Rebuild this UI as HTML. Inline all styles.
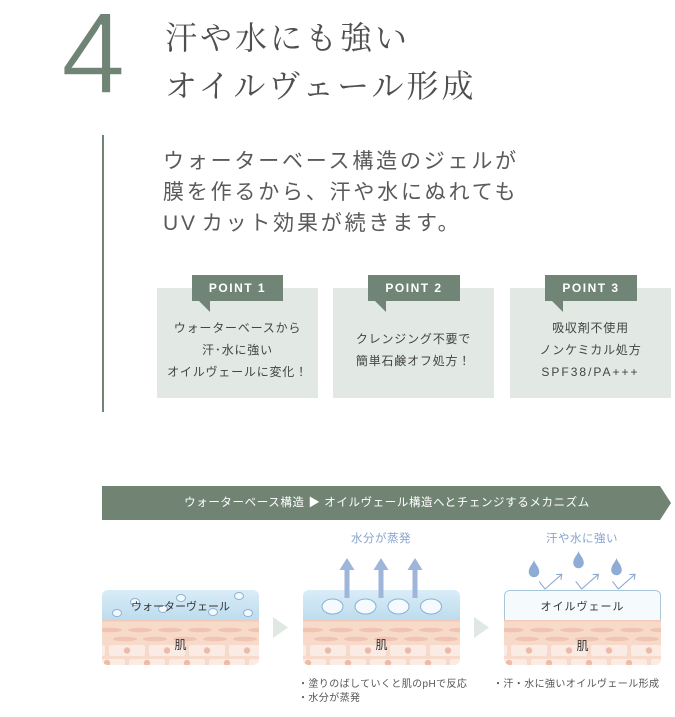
<!DOCTYPE html>
<html><head><meta charset="utf-8">
<style>
html,body{margin:0;padding:0;}
body{width:675px;height:717px;position:relative;background:#fff;overflow:hidden;font-family:"Liberation Sans","Noto Sans CJK JP",sans-serif;}
.a{position:absolute;white-space:nowrap;}
.c{text-align:center;}
</style></head>
<body>
<svg width="675" height="717" style="position:absolute;left:0;top:0" xmlns="http://www.w3.org/2000/svg">
<defs>
<clipPath id="pc"><rect x="0" y="0" width="157" height="75" rx="6" ry="6"/></clipPath>
<linearGradient id="wg" x1="0" y1="0" x2="0" y2="1">
<stop offset="0" stop-color="#d9edf7"/><stop offset="1" stop-color="#bddcee"/></linearGradient>
<g id="skin">
<rect x="0" y="30" width="157" height="45" fill="#f7dac9"/>
<rect x="0" y="30" width="157" height="1.5" fill="#f1cab8"/>
<g fill="#f0c4b2">
<ellipse cx="8" cy="40" rx="12" ry="2.3"/><ellipse cx="38" cy="40" rx="12" ry="2.3"/><ellipse cx="68" cy="40" rx="12" ry="2.3"/><ellipse cx="98" cy="40" rx="12" ry="2.3"/><ellipse cx="128" cy="40" rx="12" ry="2.3"/><ellipse cx="158" cy="40" rx="12" ry="2.3"/>
<ellipse cx="23" cy="49" rx="12" ry="2.3"/><ellipse cx="53" cy="49" rx="12" ry="2.3"/><ellipse cx="83" cy="49" rx="12" ry="2.3"/><ellipse cx="113" cy="49" rx="12" ry="2.3"/><ellipse cx="143" cy="49" rx="12" ry="2.3"/>
</g>
<g fill="#fbebe5">
<rect x="-33" y="55" width="36" height="11" rx="2"/><rect x="7" y="55" width="36" height="11" rx="2"/><rect x="47" y="55" width="36" height="11" rx="2"/><rect x="87" y="55" width="36" height="11" rx="2"/><rect x="127" y="55" width="36" height="11" rx="2"/>
<rect x="-13" y="69" width="36" height="11" rx="2"/><rect x="27" y="69" width="36" height="11" rx="2"/><rect x="67" y="69" width="36" height="11" rx="2"/><rect x="107" y="69" width="36" height="11" rx="2"/><rect x="147" y="69" width="36" height="11" rx="2"/>
</g>
<g fill="#efbaa6">
<circle cx="25" cy="60.5" r="3.2"/><circle cx="65" cy="60.5" r="3.2"/><circle cx="105" cy="60.5" r="3.2"/><circle cx="145" cy="60.5" r="3.2"/>
<circle cx="5" cy="73" r="3.2"/><circle cx="45" cy="73" r="3.2"/><circle cx="85" cy="73" r="3.2"/><circle cx="125" cy="73" r="3.2"/>
</g>
</g>
</defs>

<rect x="102" y="135" width="2" height="277" fill="#718577"/>

<rect x="157" y="288" width="161" height="110" fill="#e2e9e5"/>
<rect x="333" y="288" width="161" height="110" fill="#e2e9e5"/>
<rect x="510" y="288" width="161" height="110" fill="#e2e9e5"/>
<g fill="#718577">
<rect x="192" y="275" width="91" height="26"/><polygon points="198,300 210,300 210,312"/>
<rect x="368" y="275" width="92" height="26"/><polygon points="374,300 386,300 386,312"/>
<rect x="545" y="275" width="92" height="26"/><polygon points="551,300 563,300 563,312"/>
</g>

<polygon points="102,486 660,486 671,503 660,520 102,520" fill="#718474"/>

<g transform="translate(102,590)" clip-path="url(#pc)">
<use href="#skin"/>
<rect x="0" y="0" width="157" height="30" fill="url(#wg)"/>
</g>
<g transform="translate(303,590)" clip-path="url(#pc)">
<use href="#skin"/>
<rect x="0" y="0" width="157" height="30" fill="url(#wg)"/>
</g>
<g transform="translate(504,590)" clip-path="url(#pc)">
<use href="#skin"/>
<rect x="0" y="0" width="157" height="30" fill="#f5fafd"/>
</g>
<path d="M504.5,620 L504.5,596 Q504.5,590.5 510.5,590.5 L654.5,590.5 Q660.5,590.5 660.5,596 L660.5,620" fill="none" stroke="#a7c6da" stroke-width="1"/>

<g fill="#f3f9fd" stroke="#8db2d3" stroke-width="1">
<ellipse cx="117" cy="613" rx="4.5" ry="3.5"/>
<ellipse cx="135" cy="602" rx="4.5" ry="3.5"/>
<ellipse cx="163" cy="609" rx="4.5" ry="3.5"/>
<ellipse cx="181" cy="598" rx="4.5" ry="3.5"/>
<ellipse cx="213" cy="612" rx="4.5" ry="3.5"/>
<ellipse cx="239" cy="596" rx="4.5" ry="3.5"/>
<ellipse cx="248" cy="613" rx="4.5" ry="3.5"/>
</g>

<g fill="#9db6d9">
<rect x="344.5" y="569" width="5" height="29"/><polygon points="339.5,570 354.5,570 347,558"/>
<rect x="378.5" y="569" width="5" height="29"/><polygon points="373.5,570 388.5,570 381,558"/>
<rect x="412.5" y="569" width="5" height="29"/><polygon points="407.5,570 422.5,570 415,558"/>
</g>
<g fill="#f4fafd" stroke="#8ab0d2" stroke-width="1">
<ellipse cx="332.5" cy="606.5" rx="10.5" ry="7.5"/>
<ellipse cx="365.5" cy="606.5" rx="10.5" ry="7.5"/>
<ellipse cx="398.5" cy="606.5" rx="10.5" ry="7.5"/>
<ellipse cx="431" cy="606.5" rx="10.5" ry="7.5"/>
</g>

<g fill="#8fadd4">
<path d="M534,560 C535,564 539.3,567 539.3,572 A5.3,5.3 0 0 1 528.7,572 C528.7,567 533,564 534,560 Z"/>
<path d="M578.5,551 C579.5,555 583.8,558 583.8,563 A5.3,5.3 0 0 1 573.2,563 C573.2,558 577.5,555 578.5,551 Z"/>
<path d="M616.5,558 C617.5,562 621.8,565 621.8,570 A5.3,5.3 0 0 1 611.2,570 C611.2,565 615.5,562 616.5,558 Z"/>
</g>
<g fill="none" stroke="#8eaad3" stroke-width="1.1" stroke-linecap="round" stroke-linejoin="round">
<polyline points="539.3,581.7 545,589 561.7,574.3"/><polyline points="556.5,574.5 561.7,574.3 561,579.3"/>
<polyline points="576,581.7 581.7,589 598.3,574.3"/><polyline points="593.1,574.5 598.3,574.3 597.6,579.3"/>
<polyline points="612.7,581.7 618.3,589 635,574.3"/><polyline points="629.8,574.5 635,574.3 634.3,579.3"/>
</g>

<polygon points="273,617 288,627.5 273,638" fill="#e0e8e3"/>
<polygon points="474,617 489,627.5 474,638" fill="#e0e8e3"/>
</svg>

<div class="a" style="left:61px;top:-5px;font-size:116px;line-height:116px;color:#708476;-webkit-text-stroke:1.5px #fff;font-family:'Liberation Sans',sans-serif;">4</div>

<div class="a" style="left:165px;top:14px;font-family:'Liberation Serif','Noto Serif CJK SC',serif;font-size:32px;line-height:48px;letter-spacing:3px;color:#4f4f4f;">汗や水にも強い<br>オイルヴェール形成</div>

<div class="a" style="left:163px;top:146px;font-size:21px;line-height:31px;letter-spacing:2.8px;color:#5a5a5a;">ウォーターベース構造のジェルが<br>膜を作るから、汗や水にぬれても<br>UV<span style="margin-left:4px"></span>カット効果が続きます。</div>

<div class="a c" style="left:192px;width:91px;top:275px;line-height:26px;font-size:12px;font-weight:bold;letter-spacing:1.5px;color:#fff;">POINT 1</div>
<div class="a c" style="left:368px;width:92px;top:275px;line-height:26px;font-size:12px;font-weight:bold;letter-spacing:1.5px;color:#fff;">POINT 2</div>
<div class="a c" style="left:545px;width:92px;top:275px;line-height:26px;font-size:12px;font-weight:bold;letter-spacing:1.5px;color:#fff;">POINT 3</div>

<div class="a c" style="left:157px;width:161px;top:317px;line-height:22px;font-size:12px;letter-spacing:0.8px;color:#444;">ウォーターベースから<br>汗･水に強い<br>オイルヴェールに変化！</div>
<div class="a c" style="left:333px;width:161px;top:328px;line-height:22px;font-size:12px;letter-spacing:0.8px;color:#444;">クレンジング不要で<br>簡単石鹸オフ処方！</div>
<div class="a c" style="left:510px;width:161px;top:317px;line-height:22px;font-size:12px;letter-spacing:0.8px;color:#444;">吸収剤不使用<br>ノンケミカル処方<br><span style="letter-spacing:2px">SPF38/PA+++</span></div>

<div class="a c" style="left:102px;width:570px;top:491px;line-height:24px;font-size:11.5px;letter-spacing:0.6px;color:#fff;">ウォーターベース構造 ▶ オイルヴェール構造へとチェンジするメカニズム</div>

<div class="a c" style="left:331px;width:100px;top:530px;line-height:18px;font-size:11.5px;letter-spacing:0.5px;color:#86a3cf;">水分が蒸発</div>
<div class="a c" style="left:532px;width:100px;top:530px;line-height:18px;font-size:11.5px;letter-spacing:0.5px;color:#86a3cf;">汗や水に強い</div>

<div class="a c" style="left:102px;width:157px;top:598px;line-height:18px;font-size:11px;color:#333;">ウォーターヴェール</div>
<div class="a c" style="left:504px;width:157px;top:598px;line-height:18px;font-size:11px;letter-spacing:1px;color:#333;">オイルヴェール</div>

<div class="a c" style="left:102px;width:157px;top:636px;line-height:18px;font-size:12px;color:#333;">肌</div>
<div class="a c" style="left:303px;width:157px;top:636px;line-height:18px;font-size:12px;color:#333;">肌</div>
<div class="a c" style="left:504px;width:157px;top:637px;line-height:18px;font-size:12px;color:#333;">肌</div>

<div class="a" style="left:298px;top:678px;line-height:14px;font-size:10px;letter-spacing:0.4px;color:#555;">・塗りのばしていくと肌のpHで反応<br>・水分が蒸発</div>
<div class="a" style="left:493px;top:678px;line-height:14px;font-size:10px;letter-spacing:0.4px;color:#555;">・汗・水に強いオイルヴェール形成</div>
</body></html>
